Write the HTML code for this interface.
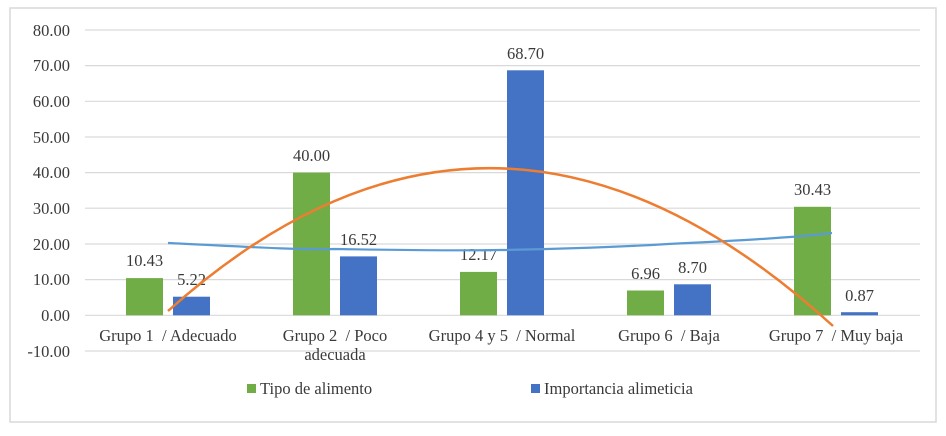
<!DOCTYPE html><html><head><style>body{margin:0;background:#fff}</style></head><body>
<svg width="946" height="431" xmlns="http://www.w3.org/2000/svg" font-family="Liberation Serif, serif" font-size="16.5" fill="#3a3a3a">
<rect x="10" y="8" width="926" height="414" fill="#fff" stroke="#d9d9d9" stroke-width="1.5"/>
<g stroke="#d9d9d9" stroke-width="1.2">
<line x1="85" x2="920" y1="30" y2="30"/><line x1="85" x2="920" y1="65.6" y2="65.6"/><line x1="85" x2="920" y1="101.3" y2="101.3"/><line x1="85" x2="920" y1="137" y2="137"/><line x1="85" x2="920" y1="172.6" y2="172.6"/><line x1="85" x2="920" y1="208.2" y2="208.2"/><line x1="85" x2="920" y1="244" y2="244"/><line x1="85" x2="920" y1="279.6" y2="279.6"/><line x1="85" x2="920" y1="315.3" y2="315.3"/><line x1="85" x2="920" y1="351" y2="351"/>
</g>
<g text-anchor="end">
<text x="70" y="36">80.00</text><text x="70" y="71">70.00</text><text x="70" y="107">60.00</text><text x="70" y="143">50.00</text><text x="70" y="178">40.00</text><text x="70" y="214">30.00</text><text x="70" y="250">20.00</text><text x="70" y="285">10.00</text><text x="70" y="321">0.00</text><text x="70" y="357">-10.00</text>
</g>
<g fill="#70ad47">
<rect x="126" y="278.1" width="37" height="37.2"/><rect x="293" y="172.6" width="37" height="142.7"/><rect x="460" y="271.9" width="37" height="43.4"/><rect x="627" y="290.5" width="37" height="24.8"/><rect x="794" y="206.8" width="37" height="108.5"/>
</g>
<g fill="#4472c4">
<rect x="173" y="296.7" width="37" height="18.6"/><rect x="340" y="256.4" width="37" height="58.9"/><rect x="507" y="70.3" width="37" height="245"/><rect x="674" y="284.3" width="37" height="31"/><rect x="841" y="312.2" width="37" height="3.1"/>
</g>
<g text-anchor="middle">
<text x="144.5" y="266">10.43</text><text x="191.5" y="285">5.22</text>
<text x="311.5" y="161">40.00</text><text x="358.5" y="245">16.52</text>
<text x="478.5" y="260">12.17</text><text x="525.5" y="59">68.70</text>
<text x="645.5" y="279">6.96</text><text x="692.5" y="273">8.70</text>
<text x="812.5" y="195">30.43</text><text x="859.5" y="301">0.87</text>
<text x="168" y="341">Grupo 1&#160; / Adecuado</text>
<text x="335" y="341">Grupo 2&#160; / Poco</text><text x="335" y="360">adecuada</text>
<text x="502" y="341">Grupo 4 y 5&#160; / Normal</text>
<text x="669" y="341">Grupo 6&#160; / Baja</text>
<text x="836" y="341">Grupo 7&#160; / Muy baja</text>
</g>
<path d="M168,243 C250,247 300,250 335,249 C400,250 450,251 500,250 C560,249 620,247 668,244 C730,241 790,238 832,233" fill="none" stroke="#5b9bd5" stroke-width="2.2"/>
<path d="M168,311 Q495,18 833,326" fill="none" stroke="#ed7d31" stroke-width="2.5"/>
<rect x="247" y="384" width="9" height="9" fill="#70ad47"/><text x="260" y="394">Tipo de alimento</text>
<rect x="531" y="384" width="9" height="9" fill="#4472c4"/><text x="544" y="394">Importancia alimeticia</text>
</svg></body></html>
